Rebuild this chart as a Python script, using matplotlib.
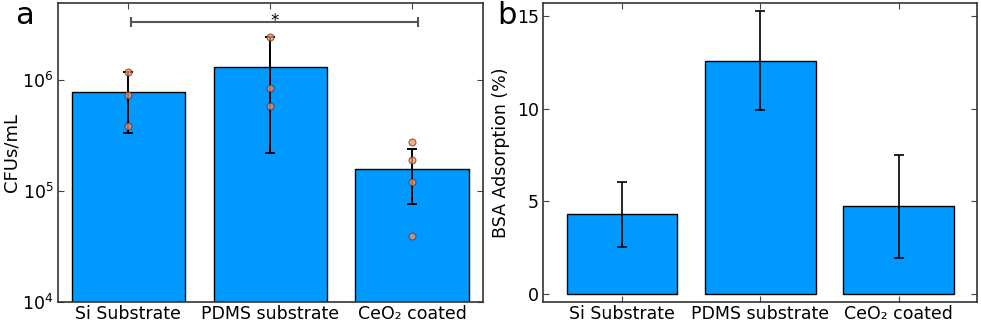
import matplotlib
matplotlib.use("Agg")
import matplotlib.pyplot as plt
import numpy as np

categories = ["Si Substrate", "PDMS substrate", "CeO\u2082 coated"]

# Panel a: CFUs/mL (log scale)
cfu_mean = [7.8e5, 1.31e6, 1.58e5]
cfu_err_low = [4.45e5, 1.09e6, 8.1e4]
cfu_err_high = [4.2e5, 1.17e6, 8.2e4]
cfu_points = [
    [1.2e6, 7.4e5, 3.9e5],
    [2.47e6, 8.5e5, 5.9e5],
    [2.8e5, 1.91e5, 1.22e5, 3.95e4],
]
sig_y = 3.35e6

# Panel b: BSA adsorption (%)
bsa_mean = [4.29, 12.58, 4.72]
bsa_err = [1.75, 2.68, 2.77]

bar_color = "#0099FF"
pt_color = "#FF8F60"
plt.rcParams["font.family"] = "DejaVu Sans"

fig = plt.figure(figsize=(9.81, 3.23), dpi=100)
W, H = 981, 323
axa = fig.add_axes([57.5 / W, (H - 302) / H, (483 - 57.5) / W, (302 - 3) / H])
axb = fig.add_axes([543.3 / W, (H - 302.3) / H, (977.3 - 543.3) / W, (302.3 - 2.7) / H])

x = np.arange(len(categories))

# ---- panel a
axa.bar(x, cfu_mean, width=0.8, color=bar_color, edgecolor="black", linewidth=1.0, zorder=2)
axa.errorbar(x, cfu_mean, yerr=[cfu_err_low, cfu_err_high], fmt="none", ecolor="black",
             elinewidth=1.4, capsize=3.5, capthick=1.4, zorder=3)
for i, pts in enumerate(cfu_points):
    axa.plot([x[i]] * len(pts), pts, "o", color=pt_color, alpha=0.75,
             markeredgecolor="#5a3a30", markeredgewidth=0.8, markersize=5, zorder=4)
axa.set_yscale("log")
axa.set_ylim(1e4, 5.0e6)
axa.set_xlim(-0.5, 2.5)
axa.set_yticks([1e4, 1e5, 1e6])
axa.set_yticklabels([r"$10^{4}$", r"$10^{5}$", r"$10^{6}$"])
axa.minorticks_off()
axa.set_ylabel("CFUs/mL", fontsize=13, labelpad=1)
# significance bracket
axa.plot([x[0] + 0.02, x[2] + 0.04], [sig_y, sig_y], color="#555555", linewidth=1.5, zorder=5)
axa.plot([x[0] + 0.02, x[2] + 0.04], [sig_y, sig_y], linestyle="none", marker="|",
         markersize=7, markeredgewidth=1.5, color="#555555", zorder=5)
axa.text(1.03, 3.1e6, "*", ha="center", va="baseline", fontsize=12)

# ---- panel b
axb.bar(x, bsa_mean, width=0.8, color=bar_color, edgecolor="black", linewidth=1.0, zorder=2)
axb.errorbar(x, bsa_mean, yerr=bsa_err, fmt="none", ecolor="black", elinewidth=1.2,
             capsize=3.5, capthick=1.2, zorder=3)
axb.set_ylim(-0.47, 15.72)
axb.set_xlim(-0.57, 2.57)
axb.set_yticks([0, 5, 10, 15])
axb.set_ylabel("BSA Adsorption (%)", fontsize=12.5, labelpad=5)

for ax in (axa, axb):
    ax.set_xticks(x)
    ax.set_xticklabels(categories, fontsize=12.5)
    ax.tick_params(axis="both", direction="in", top=True, right=True, length=4,
                   width=0.8, color="#444444", labelsize=12.5, pad=3)
    ax.tick_params(axis="x", labelsize=12.5, pad=2)
    for s in ax.spines.values():
        s.set_color("#333333")
        s.set_linewidth(1.2)

fig.text(15 / W, 1 - 24 / H, "a", fontsize=22, va="baseline", ha="left")
fig.text(497 / W, 1 - 24 / H, "b", fontsize=22, va="baseline", ha="left")

fig.savefig("out.png", dpi=100)
